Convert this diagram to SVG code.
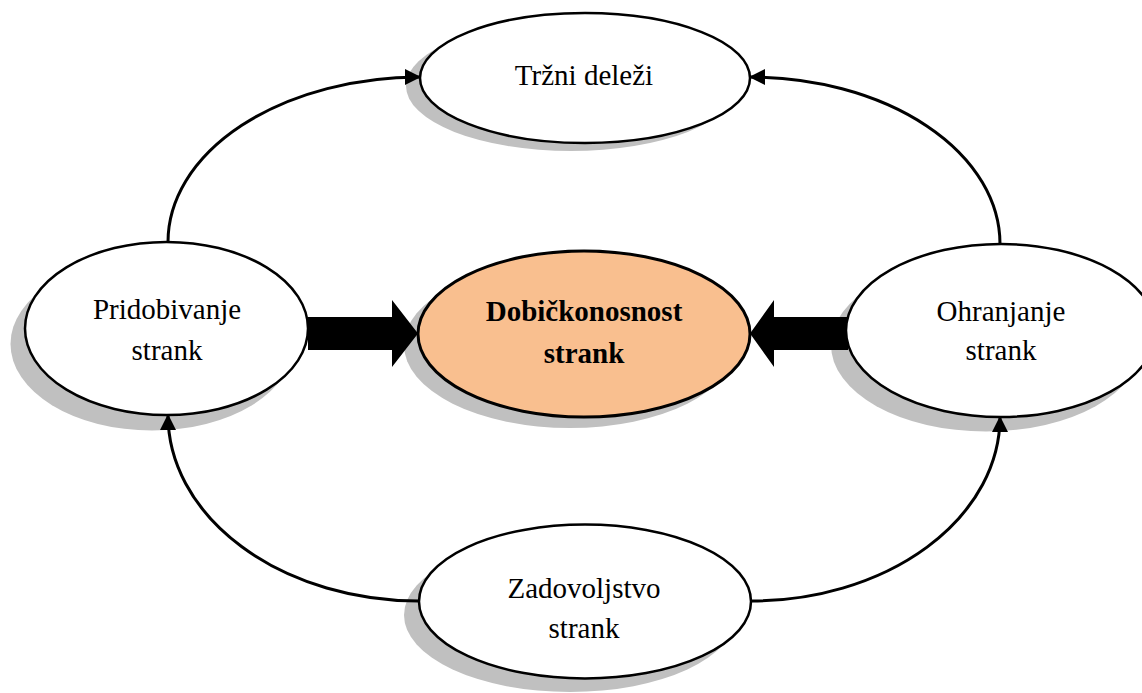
<svg xmlns="http://www.w3.org/2000/svg" width="1142" height="693" viewBox="0 0 1142 693">
  <defs>
    <marker id="tip" viewBox="0 0 16 16" refX="15" refY="8" markerWidth="16" markerHeight="16" markerUnits="userSpaceOnUse" orient="auto">
      <path d="M0,0 L16,8 L0,16 Z" fill="#000"/>
    </marker>
    <style>
      .shadow { fill: #c0c0c0; stroke: none; }
      .node { fill: #ffffff; stroke: #000; stroke-width: 2.5; }
      .core { fill: #f9bf8f; stroke: #000; stroke-width: 3; }
      .lbl { font-family: "Liberation Serif", "Times New Roman", serif; font-size: 29px; fill: #000; text-anchor: middle; }
      .bold { font-weight: bold; }
      .link { fill: none; stroke: #000; stroke-width: 3; marker-end: url(#tip); }
      .block { fill: #000; stroke: none; }
    </style>
  </defs>
  <rect width="1142" height="693" fill="#ffffff"/>

  <!-- drop shadows -->
  <g id="shadows">
    <ellipse class="shadow" cx="571" cy="86" rx="165" ry="65"/>
    <ellipse class="shadow" cx="152" cy="344" rx="141.5" ry="86.5"/>
    <ellipse class="shadow" cx="986" cy="345" rx="155" ry="86.5"/>
    <ellipse class="shadow" cx="570" cy="345" rx="166" ry="83"/>
    <ellipse class="shadow" cx="570" cy="615" rx="166" ry="77"/>
  </g>

  <!-- connectors -->
  <g id="connectors">
    <path class="link" d="M168,242 A252,165 0 0 1 420,77"/>
    <path class="link" d="M1000,244 A250,167 0 0 0 750,77"/>
    <path class="link" d="M419,601 A251,186 0 0 1 168,415"/>
    <path class="link" d="M751,601 A249,184 0 0 0 1000,417"/>
    <path class="block" d="M308,317 L392,317 L392,300 L418,333.5 L392,367 L392,350 L308,350 Z"/>
    <path class="block" d="M848,317 L774,317 L774,300 L750,333.5 L774,367 L774,350 L848,350 Z"/>
  </g>

  <g id="node-trzni">
    <ellipse class="node" cx="585" cy="78" rx="165" ry="65"/>
    <text class="lbl" x="584" y="85">Tržni deleži</text>
  </g>

  <g id="node-pridobivanje">
    <ellipse class="node" cx="166.5" cy="328.5" rx="141.5" ry="86.5"/>
    <text class="lbl" x="167" y="319">Pridobivanje</text>
    <text class="lbl" x="167" y="360">strank</text>
  </g>

  <g id="node-ohranjanje">
    <ellipse class="node" cx="1001" cy="330.5" rx="155" ry="86.5"/>
    <text class="lbl" x="1001" y="321">Ohranjanje</text>
    <text class="lbl" x="1001" y="360">strank</text>
  </g>

  <g id="node-dobickonosnost">
    <ellipse class="core" cx="584" cy="334" rx="166" ry="83"/>
    <text class="lbl bold" x="584" y="321">Dobičkonosnost</text>
    <text class="lbl bold" x="584" y="363">strank</text>
  </g>

  <g id="node-zadovoljstvo">
    <ellipse class="node" cx="585" cy="601.5" rx="166" ry="77"/>
    <text class="lbl" x="584" y="598">Zadovoljstvo</text>
    <text class="lbl" x="584" y="638">strank</text>
  </g>
</svg>
